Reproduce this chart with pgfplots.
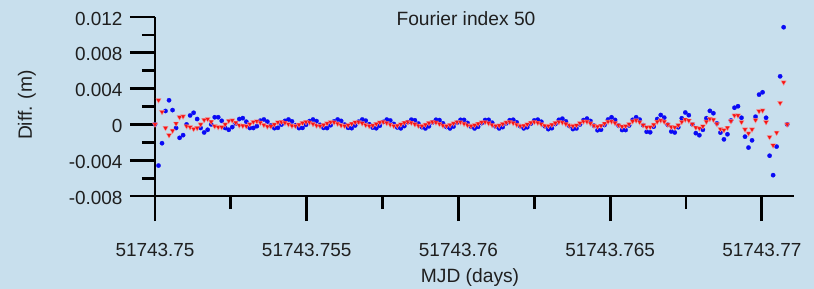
\documentclass[border=0pt]{standalone}
\usepackage{pgfplots}
\pgfplotsset{compat=1.18}
\usepackage{pgfplotstable}
\usepackage{fontspec}
\setmainfont{Liberation Sans}
\definecolor{bgc}{RGB}{200,223,237}
\definecolor{mblue}{RGB}{10,10,245}
\definecolor{mred}{RGB}{245,20,20}
\pgfplotstableread{
t b r
0 0 0
10 -0.0046 0.0027
20 -0.0021 0.0014
30 0.0015 -0.0004
40 0.0027 -0.0012
50 0.0016 -0.0007
60 -0.0004 0.0001
70 -0.0015 0.0008
80 -0.0012 0.0009
90 0.0000 -0.0002
100 0.0010 -0.0003
110 0.0013 -0.0005
120 0.0006 -0.0004
130 -0.0004 0.0000
140 -0.0009 0.0005
150 -0.0006 0.0006
160 0.0000 0.0003
170 0.0008 -0.0002
180 0.0008 -0.0003
190 0.0004 -0.0003
200 -0.0004 0.0000
210 -0.0006 0.0004
220 -0.0003 0.00045
230 0.0001 0.0002
240 0.0006 -0.0001
250 0.0007 -0.00015
260 0.0003 -0.0002
270 -0.0004 0.00004
280 -0.0004 0.00028
290 -0.0002 0.00035
300 0.00042 0.0002
310 0.00055 -0.00005
320 0.00031 -0.00023
330 -0.00012 -0.00021
340 -0.00042 -0.00001
350 -0.00038 0.00024
360 -0.00002 0.00027
370 0.00039 0.00019
380 0.00055 0.00002
390 0.00034 -0.00014
400 -0.00009 -0.00016
410 -0.00041 -0.00003
420 -0.00039 0.00016
430 -0.00005 0.00027
440 0.00037 0.00022
450 0.00055 0.00005
460 0.00037 -0.00012
470 -0.00005 -0.00017
480 -0.00039 -0.00006
490 -0.00041 0.00012
500 -0.00009 0.00026
510 0.00034 0.00024
520 0.00055 0.00009
530 0.00039 -0.00009
540 -0.00002 -0.00017
550 -0.00038 -0.00009
560 -0.00042 0.00008
570 -0.00012 0.00024
580 0.00031 0.00026
590 0.00055 0.00013
600 0.00042 -0.00006
610 0.00002 -0.00017
620 -0.00036 -0.00012
630 -0.00043 0.00005
640 -0.00015 0.00022
650 0.00028 0.00027
660 0.00054 0.00016
670 0.00044 -0.00002
680 0.00005 -0.00016
690 -0.00034 -0.00014
700 -0.00044 0.00001
710 -0.00018 0.00019
720 0.00025 0.00027
730 0.00053 0.00019
740 0.00046 0.00002
750 0.00009 -0.00014
760 -0.00031 -0.00016
770 -0.00045 -0.00003
780 -0.00021 0.00016
790 0.00021 0.00027
800 0.00052 0.00022
810 0.00048 0.00005
820 0.00012 -0.00012
830 -0.00029 -0.00017
840 -0.00045 -0.00006
850 -0.00024 0.00012
860 0.00018 0.00026
870 0.00051 0.00024
880 0.00050 0.00009
890 0.00016 -0.00009
900 -0.00026 -0.00017
910 -0.00045 -0.00009
920 -0.00027 0.00008
930 0.00014 0.00024
940 0.00049 0.00026
950 0.00051 0.00013
960 0.00019 -0.00006
970 -0.00023 -0.00017
980 -0.00045 -0.00012
990 -0.00030 0.00005
1000 0.00011 0.00022
1010 0.00047 0.00027
1020 0.00052 0.00016
1030 0.00023 -0.00002
1040 -0.00020 -0.00016
1050 -0.00044 -0.00014
1060 -0.00032 0.00001
1070 0.00007 0.00019
1080 0.00045 0.00027
1090 0.00053 0.00019
1100 0.00030 0.00002
1110 -0.00021 -0.00014
1120 -0.00053 -0.00016
1130 -0.00042 -0.00003
1140 0.00004 0.00016
1150 0.00051 0.00027
1160 0.00064 0.00022
1170 0.00034 0.00005
1180 -0.00018 -0.00012
1190 -0.00052 -0.00017
1200 -0.00045 -0.00010
1210 -0.00001 0.00015
1220 0.00048 0.00033
1230 0.00065 0.00031
1240 0.00038 0.00011
1250 -0.00014 -0.00014
1260 -0.00065 -0.00025
1270 -0.00060 -0.00015
1280 -0.00007 0.00010
1290 0.00055 0.00031
1300 0.00080 0.00033
1310 0.00050 0.00016
1320 -0.00013 -0.00010
1330 -0.00063 -0.00024
1340 -0.00063 -0.00018
1350 -0.00012 0.00004
1360 0.00051 0.00035
1370 0.00080 0.00045
1380 0.00054 0.00026
1390 -0.00008 -0.00008
1400 -0.00082 -0.00032
1410 -0.00088 -0.00030
1420 -0.00025 -0.00003
1430 0.00060 0.00030
1440 0.00105 0.00045
1450 0.00076 0.00031
1460 -0.00005 -0.00001
1470 -0.00079 -0.00029
1480 -0.00090 -0.00033
1490 -0.00032 -0.00009
1500 0.00069 0.00029
1510 0.00133 0.00054
1520 0.00103 0.00043
1530 0.00001 0.00003
1540 -0.00098 -0.00035
1550 -0.00121 -0.00044
1560 -0.00060 -0.00021
1570 0.00069 0.00031
1580 0.00151 0.00063
1590 0.00125 0.00053
1600 0.00011 0.00007
1610 -0.00092 -0.00052
1620 -0.00167 -0.00063
1630 -0.00110 -0.00037
1640 0.00044 0.00037
1650 0.00186 0.00100
1660 0.00203 0.00100
1670 0.00074 0.00026
1680 -0.00137 -0.00056
1690 -0.00259 -0.00100
1700 -0.00178 -0.00056
1710 0.00086 0.00048
1720 0.00333 0.00148
1730 0.00359 0.00156
1740 0.00074 0.00026
1750 -0.00350 -0.00141
1760 -0.00567 -0.00233
1770 -0.00248 -0.00092
1780 0.00537 0.00241
1790 0.01086 0.00470
1800 0 0
}\datatable

\begin{document}
\begin{tikzpicture}
\fill[bgc] (-155bp,-93bp) rectangle (659bp,196bp);
\begin{axis}[
  at={(0,0)}, anchor=south west,
  scale only axis, width=639bp, height=179bp,
  xmin=0, xmax=1819.5, ymin=-0.008, ymax=0.012,
  axis x line*=bottom, axis y line*=left,
  axis line style={line width=2.8bp, black},
  every tick/.append style={line width=2.8bp, black},
  tick align=outside,
  major tick length=25bp, minor tick length=13bp,
  xtick={0,432,864,1296,1728},
  xticklabels={51743.75,51743.755,51743.76,51743.765,51743.77},
  minor xtick={216,648,1080,1512},
  ytick={-0.008,-0.004,0,0.004,0.008,0.012},
  yticklabels={-0.008,-0.004,0,0.004,0.008,0.012},
  minor ytick={-0.006,-0.002,0.002,0.006,0.010},
  scaled y ticks=false, scaled x ticks=false,
  tick label style={font=\fontsize{19}{22}\selectfont, text=black!88},
  xticklabel style={yshift=-19bp},
  yticklabel style={xshift=-4bp, yshift=-1.5bp},
  clip=false,
]
\addplot[only marks, mark=*, mark size=2.2bp, mark options={fill=mblue, draw=mblue, line width=0.2bp}] table[x=t,y=b]{\datatable};
\addplot[only marks, mark=triangle*, mark size=3bp, mark options={rotate=180, fill=mred, draw=mred!45!white, line width=0.35bp}] table[x=t,y=r]{\datatable};
\node[font=\fontsize{19.3}{22}\selectfont, text=black!88, anchor=center] at (axis description cs:0.4867,0.99) {Fourier index 50};
\node[font=\fontsize{19.3}{22}\selectfont, text=black!88, anchor=center] at (axis description cs:0.493,-0.457) {MJD (days)};
\node[font=\fontsize{19.3}{22}\selectfont, text=black!88, anchor=center, rotate=90] at (axis description cs:-0.2003,0.508) {Diff. (m)};
\end{axis}
\pgfresetboundingbox
\useasboundingbox (-155bp,-93bp) rectangle (659bp,196bp);
\end{tikzpicture}
\end{document}
